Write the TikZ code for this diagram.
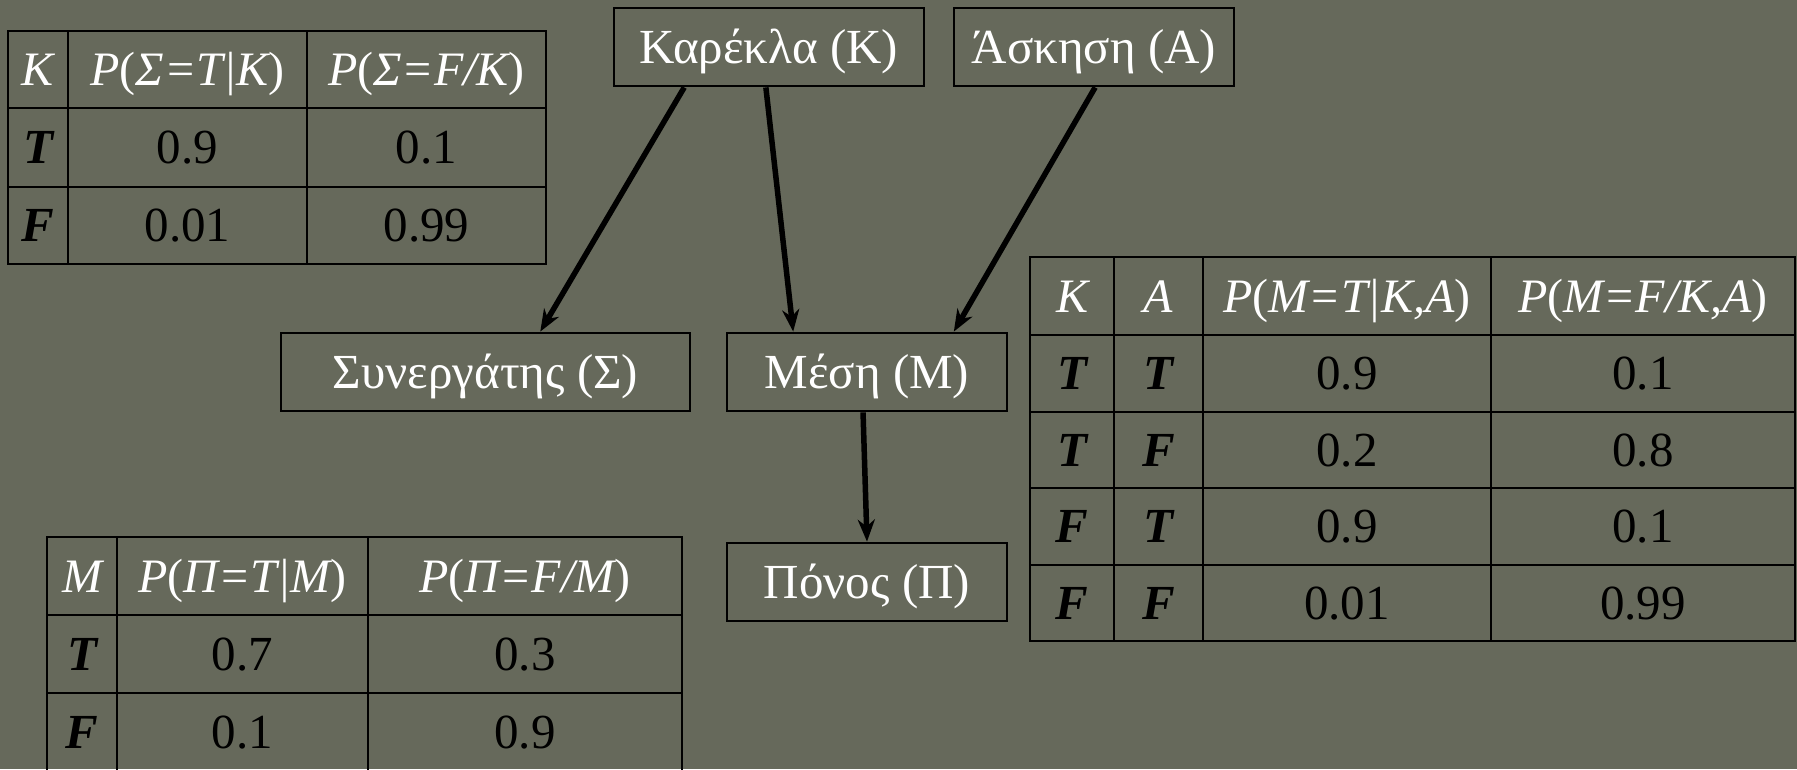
\documentclass[tikz,border=0pt]{standalone}
\usepackage{fontspec}
\setmainfont{Liberation Serif}
\usetikzlibrary{calc,arrows.meta}
\definecolor{bg}{RGB}{102,105,91}
\begin{document}
\begin{tikzpicture}[x=1pt,y=-1pt,
  box/.style={draw=black, line width=2.8pt, rectangle, text=white, inner sep=0pt,
    font=\fontsize{49}{58}\selectfont, text height=37pt, text depth=5pt},
  link/.style={line width=5.5pt, -{Stealth[length=22pt,width=17pt,inset=7pt]}},
  gridline/.style={line width=2.8pt, draw=black},
  cell/.style={inner sep=0pt, text height=37pt, text depth=5pt},
  hd/.style={cell, text=white, font=\fontsize{48}{57}\selectfont\itshape},
  val/.style={cell, text=black, font=\fontsize{49}{58}\selectfont},
  tf/.style={cell, text=black, font=\fontsize{49}{58}\selectfont\bfseries\itshape},
]
\fill[bg] (0,0) rectangle (1797,769);
\useasboundingbox (0,0) rectangle (1797,769);

% boxes
\node[box, minimum width=310pt, minimum height=78pt] (K) at (769,47) {Καρέκλα (Κ)};
\node[box, minimum width=280pt, minimum height=78pt] (A) at (1094,47) {Άσκηση (Α)};
\node[box, minimum width=409pt, minimum height=78pt] (S) at (485.5,372) {Συνεργάτης (Σ)};
\node[box, minimum width=280pt, minimum height=78pt] (M) at (867,372) {Μέση (Μ)};
\node[box, minimum width=280pt, minimum height=78pt] (P) at (867,582) {Πόνος (Π)};

% arrows
\draw[link] ($(K.south west)!0.229!(K.south east)$) -- ($(S.north west)!0.633!(S.north east)$);
\draw[link] ($(K.south west)!0.49!(K.south east)$) -- ($(M.north west)!0.239!(M.north east)$);
\draw[link] ($(A.south west)!0.504!(A.south east)$) -- ($(M.north west)!0.807!(M.north east)$);
\draw[link] ($(M.south west)!0.486!(M.south east)$) -- ($(P.north west)!0.5!(P.north east)$);

% table Sigma
\draw[gridline] (8,31) rectangle (546,264);
\draw[gridline] (68,31) -- (68,264) (307,31) -- (307,264)
  (8,108) -- (546,108) (8,187) -- (546,187);
\node[hd] (s00) at (38,69.5) {K};
\node[hd] (s01) at (187.5,69.5) {P\upshape(\itshape Σ=T|K\upshape)};
\node[hd] (s02) at (426.5,69.5) {P\upshape(\itshape Σ=F/K\upshape)};
\node[tf] (s10) at (38,147.5) {T};
\node[val] (s11) at (187.5,147.5) {0.9};
\node[val] (s12) at (426.5,147.5) {0.1};
\node[tf] (s20) at (38,225.5) {F};
\node[val] (s21) at (187.5,225.5) {0.01};
\node[val] (s22) at (426.5,225.5) {0.99};

% table M
\draw[gridline] (1030,257) rectangle (1795,641);
\draw[gridline] (1114,257) -- (1114,641) (1203,257) -- (1203,641) (1491,257) -- (1491,641)
  (1030,335) -- (1795,335) (1030,412) -- (1795,412) (1030,488) -- (1795,488) (1030,565) -- (1795,565);
\node[hd] (m00) at (1072,296) {K};
\node[hd] (m01) at (1158.5,296) {A};
\node[hd] (m02) at (1347,296) {P\upshape(\itshape M=T|K,A\upshape)};
\node[hd] (m03) at (1643,296) {P\upshape(\itshape M=F/K,A\upshape)};
\node[tf] (m10) at (1072,373.5) {T};
\node[tf] (m11) at (1158.5,373.5) {T};
\node[val] (m12) at (1347,373.5) {0.9};
\node[val] (m13) at (1643,373.5) {0.1};
\node[tf] (m20) at (1072,450) {T};
\node[tf] (m21) at (1158.5,450) {F};
\node[val] (m22) at (1347,450) {0.2};
\node[val] (m23) at (1643,450) {0.8};
\node[tf] (m30) at (1072,526.5) {F};
\node[tf] (m31) at (1158.5,526.5) {T};
\node[val] (m32) at (1347,526.5) {0.9};
\node[val] (m33) at (1643,526.5) {0.1};
\node[tf] (m40) at (1072,603) {F};
\node[tf] (m41) at (1158.5,603) {F};
\node[val] (m42) at (1347,603) {0.01};
\node[val] (m43) at (1643,603) {0.99};

% table Pi
\draw[gridline] (47,775) -- (47,537) -- (682,537) -- (682,775);
\draw[gridline] (117,537) -- (117,775) (368,537) -- (368,775)
  (47,615) -- (682,615) (47,693) -- (682,693);
\node[hd] (p00) at (82,576) {M};
\node[hd] (p01) at (242.5,576) {P\upshape(\itshape Π=T|M\upshape)};
\node[hd] (p02) at (525,576) {P\upshape(\itshape Π=F/M\upshape)};
\node[tf] (p10) at (82,654) {T};
\node[val] (p11) at (242.5,654) {0.7};
\node[val] (p12) at (525,654) {0.3};
\node[tf] (p20) at (82,732) {F};
\node[val] (p21) at (242.5,732) {0.1};
\node[val] (p22) at (525,732) {0.9};
\end{tikzpicture}
\end{document}
